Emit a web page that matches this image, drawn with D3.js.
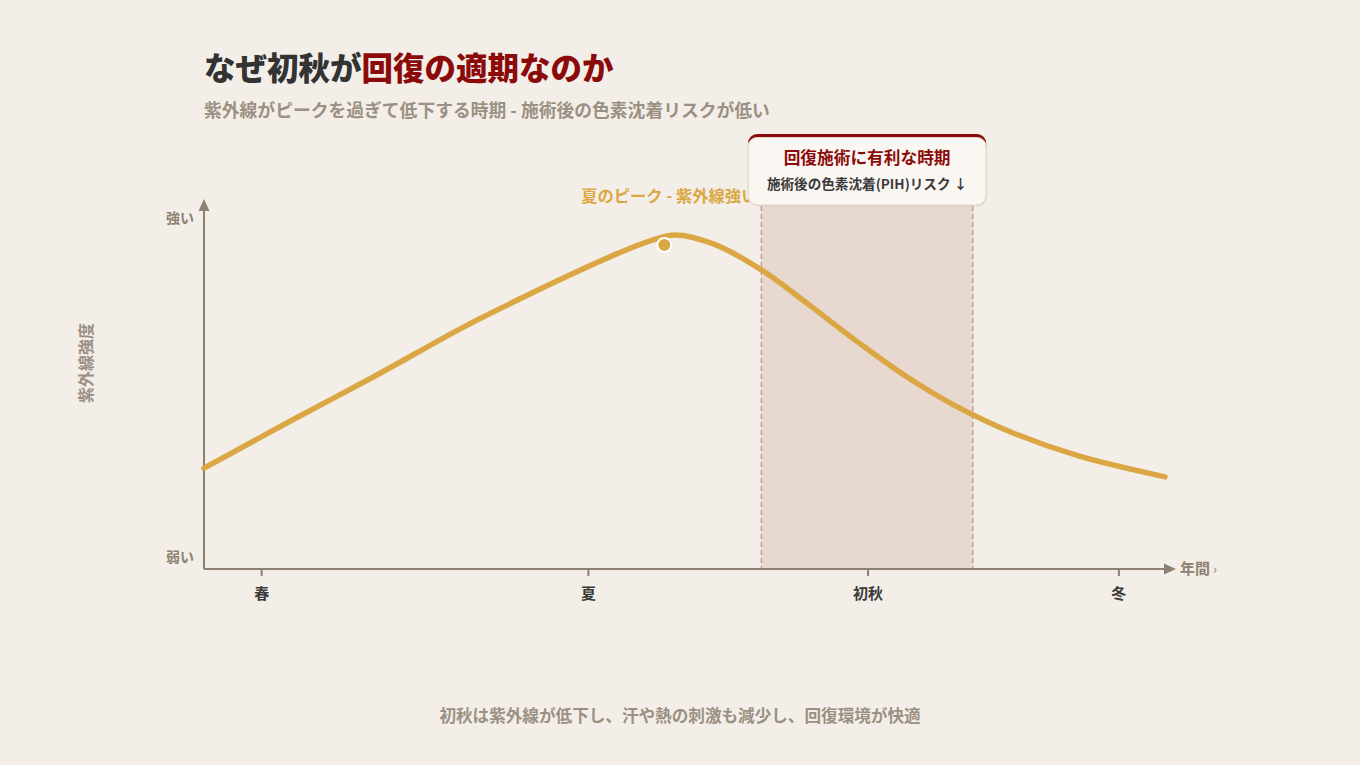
<!DOCTYPE html>
<html>
<head>
<meta charset="utf-8">
<script src="https://cdn.jsdelivr.net/npm/d3@7"></script>
<style>
  html, body { margin: 0; padding: 0; background: #f3efe8; }
  svg { display: block; font-family: "Noto Sans CJK JP", "Noto Sans", sans-serif; }
</style>
</head>
<body>
<svg id="chart" width="1360" height="765"></svg>
<script>
// ---- data ----
const titleDark = "なぜ初秋が";
const titleRed = "回復の適期なのか";
const subtitle = "紫外線がピークを過ぎて低下する時期 - 施術後の色素沈着リスクが低い";
const footer = "初秋は紫外線が低下し、汗や熱の刺激も減少し、回復環境が快適";
const yAxisTitle = "紫外線強度";

// season position along the year (0-100) and UV intensity (0-100)
const curveX = [0, 9, 18, 27, 33, 38, 43, 46.5, 49, 53, 58, 63, 68, 73, 78, 84, 91, 100];
const curveY = [28, 41.1, 53.9, 67.2, 75.2, 81.6, 87.6, 91.2, 92.8, 90.3, 83.1, 73.3, 63.1, 53.6, 45.6, 38, 31.4, 25.6];

const seasonLabels = ["春", "夏", "初秋", "冬"];
const seasonPos = [6, 40, 69.1, 95.2];

const yTickLabels = ["弱い", "強い"];
const yTickPos = [3.3, 97.5];

const bandRange = [58, 80];
const peakPoint = [47.9, 90];
const peakLabel = "夏のピーク - 紫外線強い";
const boxTitle = "回復施術に有利な時期";
const boxSub = "施術後の色素沈着(PIH)リスク ↓";
const xAxisLabel = "年間";

// ---- drawing ----
const svg = d3.select("#chart");
const W = 1360, H = 765;
svg.append("rect").attr("width", W).attr("height", H).attr("fill", "#f3efe8");

const x = d3.scaleLinear().domain([0, 100]).range([204, 1165]);
const y = d3.scaleLinear().domain([0, 100]).range([569, 209]);

const axisColor = "#8c8172";
const curveColor = "#dba744";

// title
const t = svg.append("text").attr("x", 204).attr("y", 80)
  .attr("font-size", 31.5).attr("font-weight", 900).attr("letter-spacing", 0);
t.append("tspan").attr("fill", "#333333").text(titleDark);
t.append("tspan").attr("fill", "#8b0a0a").text(titleRed);

svg.append("text").attr("x", 204).attr("y", 117)
  .attr("font-size", 17.8).attr("font-weight", 700).attr("fill", "#9b9083")
  .text(subtitle);

// band
const band = svg.append("g");
band.append("rect")
  .attr("x", x(bandRange[0])).attr("width", x(bandRange[1]) - x(bandRange[0]))
  .attr("y", 190).attr("height", y(0) - 190)
  .attr("fill", "#e8d9d0");
bandRange.forEach(v => {
  band.append("line")
    .attr("x1", x(v)).attr("x2", x(v)).attr("y1", 190).attr("y2", y(0))
    .attr("stroke", "#c98e8e").attr("stroke-width", 1.3).attr("stroke-dasharray", "5,3");
});

// axes
svg.append("line").attr("x1", x(0)).attr("x2", x(0)).attr("y1", y(0)).attr("y2", 208)
  .attr("stroke", axisColor).attr("stroke-width", 2);
svg.append("path").attr("d", `M${x(0)},199 L${x(0) - 5.5},211 L${x(0) + 5.5},211 Z`).attr("fill", axisColor);
svg.append("line").attr("x1", x(0)).attr("x2", 1168).attr("y1", y(0)).attr("y2", y(0))
  .attr("stroke", axisColor).attr("stroke-width", 2);
svg.append("path").attr("d", `M1176,${y(0)} L1164,${y(0) - 5.5} L1164,${y(0) + 5.5} Z`).attr("fill", axisColor);

const xa = svg.append("text").attr("x", 1180).attr("y", 573.5)
  .attr("font-size", 15).attr("font-weight", 700).attr("fill", axisColor);
xa.append("tspan").text(xAxisLabel);
xa.append("tspan").attr("dx", 3).attr("font-size", 13).attr("font-weight", 400).text("›");

// x ticks
seasonLabels.forEach((s, i) => {
  svg.append("line").attr("x1", x(seasonPos[i])).attr("x2", x(seasonPos[i]))
    .attr("y1", y(0)).attr("y2", y(0) + 7).attr("stroke", axisColor).attr("stroke-width", 2);
  svg.append("text").attr("x", x(seasonPos[i])).attr("y", 599)
    .attr("text-anchor", "middle").attr("font-size", 15).attr("font-weight", 700)
    .attr("fill", "#3a3a3a").text(s);
});

// y tick labels
yTickLabels.forEach((s, i) => {
  svg.append("text").attr("x", 194).attr("y", y(yTickPos[i]) + 5)
    .attr("text-anchor", "end").attr("font-size", 14).attr("font-weight", 700)
    .attr("fill", "#8c8172").text(s);
});

svg.append("text")
  .attr("transform", "translate(92,363) rotate(-90)")
  .attr("text-anchor", "middle").attr("font-size", 16).attr("font-weight", 700)
  .attr("fill", "#9b9083").text(yAxisTitle);

// curve
const pts = curveX.map((v, i) => [v, curveY[i]]);
svg.append("path").datum(pts)
  .attr("d", d3.line().x(d => x(d[0])).y(d => y(d[1])).curve(d3.curveCatmullRom.alpha(0.5)))
  .attr("fill", "none").attr("stroke", curveColor).attr("stroke-width", 5.5)
  .attr("stroke-linecap", "round");

svg.append("circle").attr("cx", x(peakPoint[0])).attr("cy", y(peakPoint[1])).attr("r", 7)
  .attr("fill", curveColor).attr("stroke", "#ffffff").attr("stroke-width", 2);

svg.append("text").attr("x", x(peakPoint[0]) + 5).attr("y", 202)
  .attr("text-anchor", "middle").attr("font-size", 16.3).attr("font-weight", 700)
  .attr("fill", curveColor).text(peakLabel);

// annotation box
const bx = (x(bandRange[0]) + x(bandRange[1])) / 2;
const bw = 238, by = 134, bh = 71;
svg.append("rect").attr("x", bx - bw / 2 + 1).attr("y", by + 2).attr("width", bw).attr("height", bh)
  .attr("rx", 9).attr("fill", "rgba(0,0,0,0.04)");
svg.append("rect").attr("x", bx - bw / 2).attr("y", by).attr("width", bw).attr("height", bh)
  .attr("rx", 9).attr("fill", "#8b0a0a");
svg.append("rect").attr("x", bx - bw / 2).attr("y", by + 3.5).attr("width", bw).attr("height", bh - 3.5)
  .attr("rx", 9).attr("fill", "#faf6f1").attr("stroke", "#e4d6cc").attr("stroke-width", 1);
svg.append("text").attr("x", bx).attr("y", 164)
  .attr("text-anchor", "middle").attr("font-size", 16.7).attr("font-weight", 700)
  .attr("fill", "#8b0a0a").text(boxTitle);
svg.append("text").attr("x", bx).attr("y", 189)
  .attr("text-anchor", "middle").attr("font-size", 13.6).attr("font-weight", 700)
  .attr("fill", "#3a3a3a").text(boxSub);

// footer
svg.append("text").attr("x", W / 2).attr("y", 722)
  .attr("text-anchor", "middle").attr("font-size", 16.6).attr("font-weight", 700)
  .attr("fill", "#9b9083").text(footer);
</script>
</body>
</html>
